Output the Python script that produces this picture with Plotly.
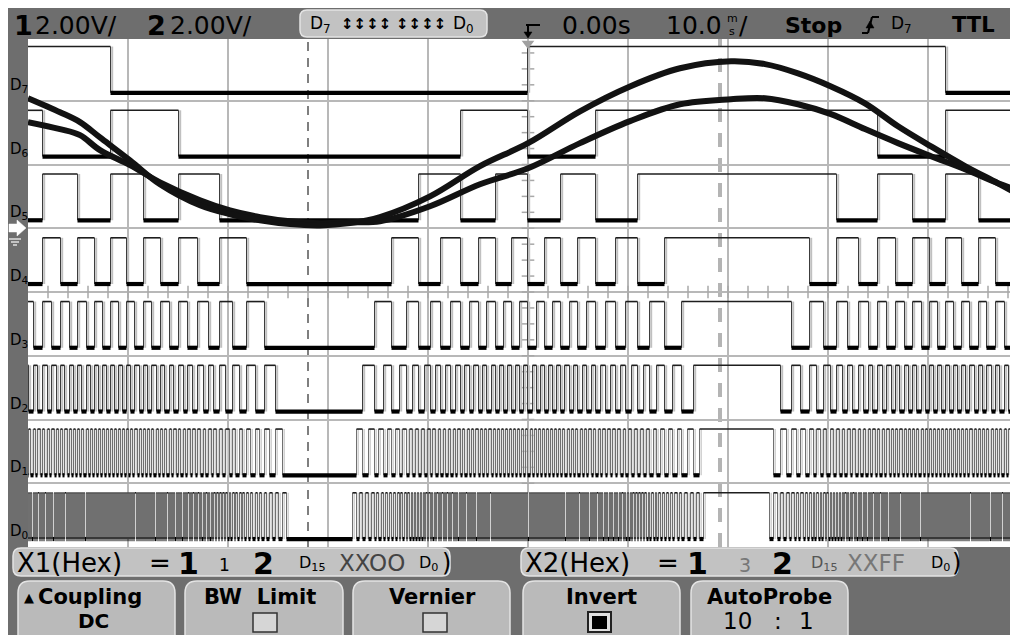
import numpy as np
import plotly.graph_objects as go

# ---------------- geometry of the scope screen (reference pixels) ----------------
W, H = 1018, 635
L, R, T, B = 28, 1018, 39, 547          # waveform area
DIV = 63.75                             # pixels per vertical division
OFF_X, OFF_Y = 8, 8                     # the page body adds an 8 px margin

x_range_ms = [-50.0, 49.0]              # 10 ms/div, trigger at centre
t_ms = [-50.0, -46.8, -44.8, -42.8, -39.8, -36.8, -32.8, -29.8, -26.8, -23.8,
        -20.8, -17.8, -14.8, -9.8, -4.8, 0.0, 5.2, 10.2, 15.2, 20.3,
        23.7, 27.0, 30.3, 33.7, 37.0, 40.3, 43.7, 47.0, 49.0]
ch1_v = [4.08, 3.64, 3.33, 2.85, 2.13, 1.38, 0.72, 0.44, 0.25, 0.13,
         0.09, 0.16, 0.35, 1.00, 1.95, 2.67, 3.67, 4.45, 5.02, 5.24,
         5.15, 4.86, 4.45, 3.92, 3.20, 2.57, 1.95, 1.41, 1.07]
ch2_v = [3.33, 3.11, 2.92, 2.45, 1.98, 1.44, 0.88, 0.56, 0.35, 0.22,
         0.16, 0.19, 0.22, 0.69, 1.38, 1.88, 2.67, 3.36, 3.89, 4.05,
         4.08, 3.89, 3.58, 3.11, 2.67, 2.26, 1.85, 1.41, 1.19]
volts_per_div = 2.0
ground_div = 5.0                        # ground marker of channels 1/2

bus_labels = ["D0", "D1", "D2", "D3", "D4", "D5", "D6", "D7"]
bus_d7_edges_ms = [-41.8, 0.0, 41.7]    # MSB transitions (code crosses 0x80)
bus_peak_codes = 131.0                  # swing of the 8-bit bus (clipped)
bus_limits = [0x00, 0xFF]               # X1 reads XX00, X2 reads XXFF
cursor_ms = [-22.0, 19.2]               # X1, X2


def px(X):
    return (X - L) / (R - L)


def py(Y):
    return (B - Y) / (B - T)


fig = go.Figure()

# ---------------- centre-axis minor ticks ----------------
tick_t = np.arange(-48, 49, 2)
fig.add_trace(go.Scatter(x=tick_t, y=[4.0] * len(tick_t), mode="markers",
                         marker=dict(symbol="line-ns", size=9, color="#a8a8a8",
                                     line=dict(color="#a8a8a8", width=1.5)),
                         hoverinfo="skip"))
tick_y = np.arange(0.25, 7.9, 0.25)
fig.add_trace(go.Scatter(x=[0.0] * len(tick_y), y=tick_y, mode="markers",
                         marker=dict(symbol="line-ew", size=9, color="#a8a8a8",
                                     line=dict(color="#a8a8a8", width=1.5)),
                         hoverinfo="skip"))

# ---------------- logic channels D7..D0 ----------------
period = 2 * float(np.mean(np.diff(bus_d7_edges_ms)))
ts = np.arange(x_range_ms[0], x_range_ms[1] + 1e-9, 0.1)     # one sample per pixel
raw = 127.5 + bus_peak_codes * np.sin(2 * np.pi * (ts - bus_d7_edges_ms[1]) / period)
code = np.clip(np.round(raw), bus_limits[0], bus_limits[1]).astype(int)


def segments(x0s, x1s, level):
    xx, yy = [], []
    for a, c in zip(x0s, x1s):
        xx += [a, c, None]
        yy += [level, level, None]
    return xx, yy


for b in range(len(bus_labels)):
    bits = (code >> b) & 1
    lo, hi = b + 0.125, b + 0.85
    idx = np.nonzero(np.diff(bits))[0] + 1
    edges = ts[idx] - 0.05
    n = len(edges)
    dense = b <= 1
    # light shadow beside every edge
    sx = np.repeat(edges + 0.17, 3).astype(object)
    sx[2::3] = None
    sy = np.tile(np.array([lo, hi, None], dtype=object), n)
    fig.add_trace(go.Scatter(x=sx, y=sy, mode="lines",
                             line=dict(color="#d0d0d0" if dense else "#c0c0c0",
                                       width=1.5 if dense else 2), hoverinfo="skip"))
    # the edges themselves
    ex = np.repeat(edges, 3).astype(object)
    ex[2::3] = None
    fig.add_trace(go.Scatter(x=ex, y=sy, mode="lines",
                             line=dict(color="#707070" if dense else "#3c3c3c", width=1),
                             hoverinfo="skip"))
    # level segments
    bounds = np.concatenate([[ts[0]], edges, [ts[-1]]])
    seg_lv = np.concatenate([[bits[0]], bits[idx]])
    hi_mask = seg_lv == 1
    hx, hy = segments(bounds[:-1][hi_mask], bounds[1:][hi_mask], hi)
    fig.add_trace(go.Scatter(x=hx, y=hy, mode="lines",
                             line=dict(color="#1e1e1e", width=1.6), hoverinfo="skip"))
    lx, ly = segments(bounds[:-1][~hi_mask], bounds[1:][~hi_mask], lo)
    fig.add_trace(go.Scatter(x=lx, y=ly, mode="lines",
                             line=dict(color="#000000", width=4.2), hoverinfo="skip"))

# ---------------- analog channels ----------------
for vals in (ch2_v, ch1_v):
    yy = [ground_div + v / volts_per_div for v in vals]
    fig.add_trace(go.Scatter(x=t_ms, y=yy, mode="lines",
                             line=dict(color="#121212", width=6, shape="spline", smoothing=1.0),
                             hoverinfo="skip"))

# trigger position marker
fig.add_trace(go.Scatter(x=[0.0], y=[(B - T) / DIV - 0.07], mode="markers", cliponaxis=False,
                         marker=dict(symbol="triangle-down", size=11, color="#a0a0a0"),
                         hoverinfo="skip"))

shapes = []


def rect(x0, y0, x1, y1, fill, line=None, lw=0, layer="above"):
    shapes.append(dict(type="rect", xref="paper", yref="paper",
                       x0=px(x0), x1=px(x1), y0=py(y1), y1=py(y0),
                       fillcolor=fill, line=dict(color=line or fill, width=lw), layer=layer))


def rrect(x0, y0, x1, y1, r, fill, line="#e4e4e4", lw=1.5):
    pts = [("M", x0 + r, y0), ("L", x1 - r, y0), ("Q", x1, y0, x1, y0 + r),
           ("L", x1, y1 - r), ("Q", x1, y1, x1 - r, y1), ("L", x0 + r, y1),
           ("Q", x0, y1, x0, y1 - r), ("L", x0, y0 + r), ("Q", x0, y0, x0 + r, y0)]
    s = ""
    for p in pts:
        cmd, vals = p[0], p[1:]
        coords = []
        for k in range(0, len(vals), 2):
            coords.append("%.5f,%.5f" % (px(vals[k]), py(vals[k + 1])))
        s += cmd + " " + " ".join(coords) + " "
    shapes.append(dict(type="path", xref="paper", yref="paper", path=s + "Z",
                       fillcolor=fill, line=dict(color=line, width=lw), layer="above"))


def seg(x0, y0, x1, y1, color="#000", w=2):
    shapes.append(dict(type="line", xref="paper", yref="paper",
                       x0=px(x0), y0=py(y0), x1=px(x1), y1=py(y1),
                       line=dict(color=color, width=w), layer="above"))


def poly(points, fill):
    s = "M " + " L ".join("%.5f,%.5f" % (px(a), py(b)) for a, b in points) + " Z"
    shapes.append(dict(type="path", xref="paper", yref="paper", path=s,
                       fillcolor=fill, line=dict(color=fill, width=0.5), layer="above"))


# cursors
shapes.append(dict(type="line", xref="x", yref="paper", x0=cursor_ms[0], x1=cursor_ms[0],
                   y0=0, y1=1, line=dict(color="#555555", width=1.5, dash="9px,7px"), layer="between"))
shapes.append(dict(type="line", xref="x", yref="paper", x0=cursor_ms[1], x1=cursor_ms[1],
                   y0=0, y1=1, line=dict(color="#b4b4b4", width=4, dash="14px,11px"), layer="between"))

# screen frame pieces
rrect(300, 10, 487, 37, 7, "#c2c2c2")
rrect(13, 548, 450, 576, 8, "#c2c2c2")
rrect(521, 548, 958, 576, 8, "#c2c2c2")
for x0, x1 in [(18, 175), (185, 343), (353, 510), (523, 680), (691, 848)]:
    rrect(x0, 581, x1, 660, 12, "#bababa")
# check boxes
rect(253, 613, 277, 632, "#d6d6d6", "#333333", 1.5)
rect(423, 613, 447, 632, "#d6d6d6", "#333333", 1.5)
rect(588, 612, 611, 632, "#e0e0e0", "#222222", 2)
rect(592, 616, 607, 629, "#000000")
# trigger-position icon in the status line
seg(526, 25, 540, 25, "#000", 2)
seg(528, 25, 528, 33, "#000", 2)
poly([(524, 32), (532, 32), (528, 38)], "#000")
# trigger edge icon
seg(862, 33, 868, 33, "#000", 2)
seg(868, 33, 872, 17, "#000", 2)
seg(872, 17, 879, 17, "#000", 2)
poly([(866, 28), (874, 28), (870, 21)], "#000")
# ground marker
poly([(9, 224), (17, 224), (17, 220), (26, 228), (17, 236), (17, 232), (9, 232)], "#ffffff")
seg(9, 239, 21, 239, "#e0e0e0", 1.5)
seg(11, 242, 19, 242, "#e0e0e0", 1.5)
seg(13, 245, 17, 245, "#e0e0e0", 1.5)

anns = []


def A(X, Y, text, size, color="#000000", bold=False, anchor="left"):
    anns.append(dict(x=px(X), y=py(Y), xref="paper", yref="paper",
                     text=("<b>%s</b>" % text) if bold else text, showarrow=False,
                     xanchor=anchor, yanchor="middle",
                     font=dict(family="DejaVu Sans", size=size, color=color)))


# status line
A(12, 25, "1", 27, bold=True)
A(33, 25, "2.00V/", 25)
A(145, 25, "2", 27, bold=True)
A(168, 25, "2.00V/", 25)
A(308, 24, "D<sub>7</sub>", 17)
A(366, 24, "↕↕↕↕", 15, bold=True, anchor="center")
A(421, 24, "↕↕↕↕", 15, bold=True, anchor="center")
A(451, 24, "D<sub>0</sub>", 17)
A(560, 25, "0.00s", 25)
A(664, 25, "10.0", 25)
A(732, 18, "m", 11, anchor="center")
A(732, 31, "s", 11, anchor="center")
A(737, 25, "/", 25)
A(783, 25, "Stop", 22, bold=True)
A(889, 24, "D<sub>7</sub>", 17)
A(950, 25, "TTL", 21, bold=True)

# channel labels
for b, lab in enumerate(bus_labels):
    anns.append(dict(x=px(8), y=b + 0.24, xref="paper", yref="y",
                     text="D<sub>%s</sub>" % lab[1:], showarrow=False,
                     xanchor="left", yanchor="middle",
                     font=dict(family="DejaVu Sans", size=15, color="#000")))

# cursor read-outs
A(15, 563, "X1(Hex)", 26)
A(147, 563, "=", 26)
A(176, 563, "1", 30, bold=True)
A(217, 565, "1", 17)
A(251, 563, "2", 30, bold=True)
A(297, 563, "D<sub>15</sub>", 16)
A(337, 563, "XXOO", 23, color="#444444")
A(417, 563, "D<sub>0</sub>", 16)
A(440, 563, ")", 24)
A(523, 563, "X2(Hex)", 26)
A(655, 563, "=", 26)
A(685, 563, "1", 30, bold=True)
A(737, 565, "3", 19, color="#777777")
A(770, 563, "2", 30, bold=True)
A(809, 563, "D<sub>15</sub>", 16, color="#555555")
A(845, 563, "XXFF", 23, color="#777777")
A(929, 563, "D<sub>0</sub>", 16)
A(950, 563, ")", 24)

# soft keys
A(29, 597, "▲", 13, anchor="center")
A(36, 597, "Coupling", 21, bold=True)
A(93, 621, "DC", 20, bold=True, anchor="center")
A(260, 597, "BW&nbsp;&nbsp;Limit", 21, bold=True, anchor="center")
A(432, 597, "Vernier", 21, bold=True, anchor="center")
A(601, 597, "Invert", 21, bold=True, anchor="center")
A(769, 597, "AutoProbe", 21, bold=True, anchor="center")
A(737, 621, "10", 23, anchor="center")
A(778, 621, ":", 23, anchor="center")
A(806, 621, "1", 23, anchor="center")

axis_common = dict(showgrid=True, gridcolor="#b8b8b8", gridwidth=2, zeroline=False,
                   showticklabels=False, ticks="", showline=False, fixedrange=True)
fig.update_layout(
    width=W - OFF_X, height=H - OFF_Y, autosize=False,
    margin=dict(l=L - OFF_X, r=0, t=T - OFF_Y, b=H - B, pad=0),
    paper_bgcolor="#6e6e6e", plot_bgcolor="#ffffff", showlegend=False,
    xaxis=dict(range=x_range_ms, dtick=10, tick0=0, **axis_common),
    yaxis=dict(range=[0, (B - T) / DIV], dtick=1, tick0=0, **axis_common),
    shapes=shapes, annotations=anns, hovermode=False,
)
fig.write_html("out.html")
